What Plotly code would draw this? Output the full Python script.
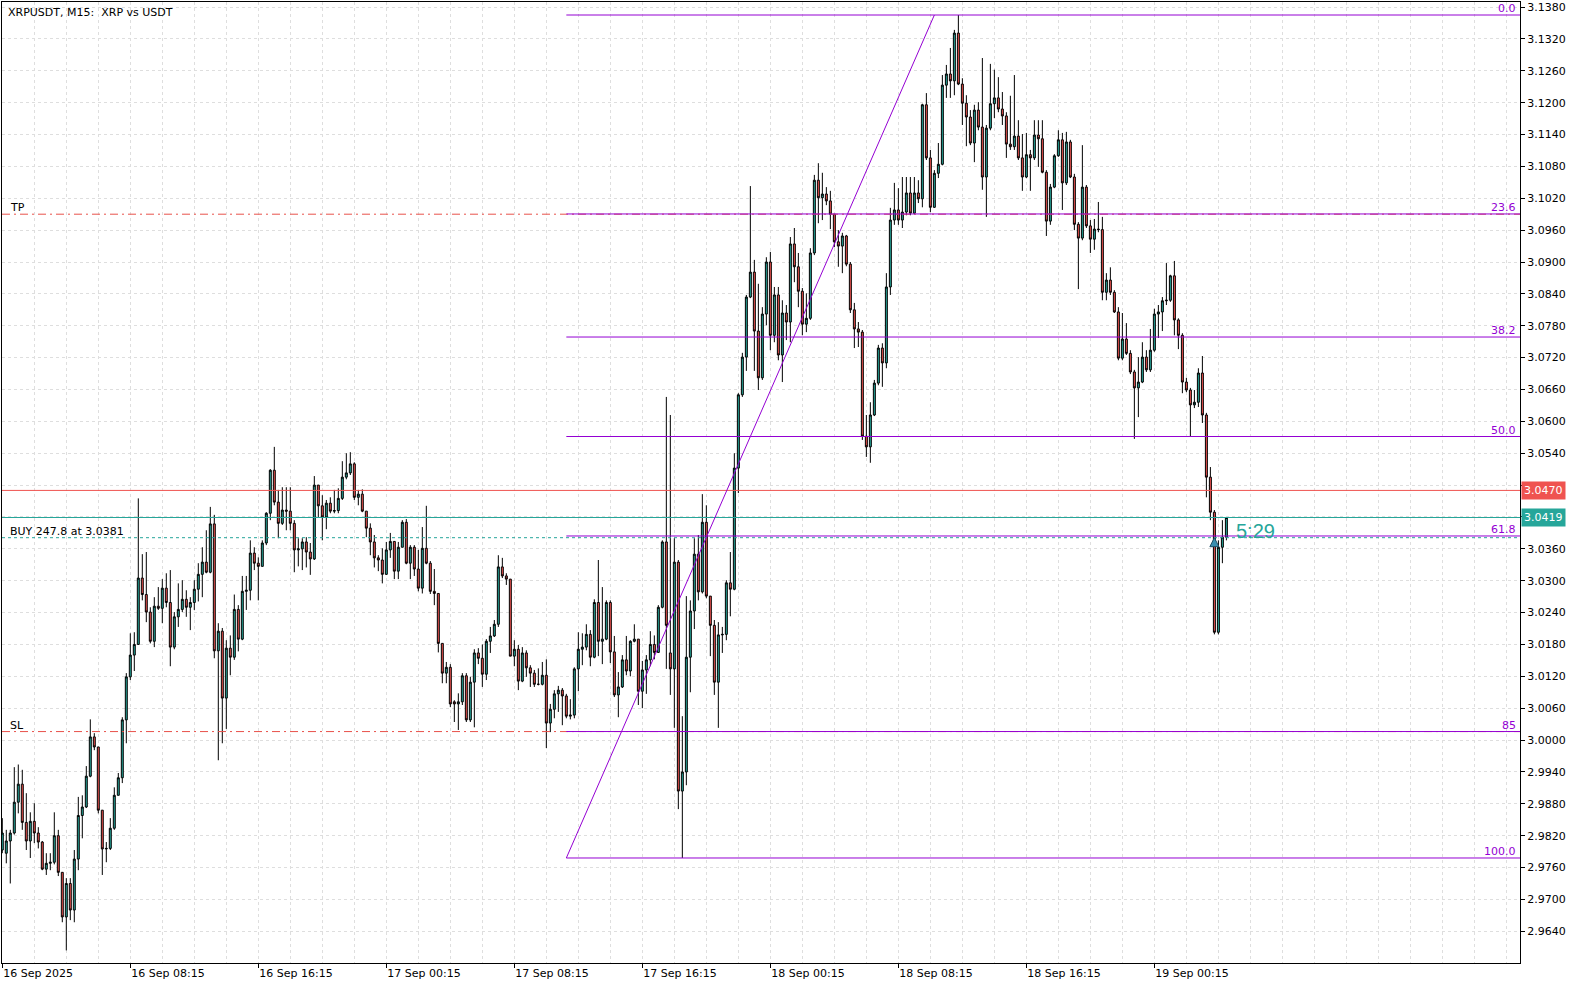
import plotly.graph_objects as go
import pandas as pd

symbol_title = "XRPUSDT, M15:  XRP vs USDT"
first_bar = "2025-09-16 00:15"

opens = [
2.9793,2.9787,2.9810,2.9825,2.9883,2.9917,2.9845,2.9810,2.9847,2.9825,
2.9808,2.9757,2.9768,2.9770,2.9820,2.9751,2.9667,2.9730,2.9680,2.9776,
2.9858,2.9874,2.9932,3.0006,2.9987,2.9868,2.9795,2.9796,2.9834,2.9896,
2.9929,3.0038,3.0119,3.0160,3.0180,3.0305,3.0274,3.0241,3.0186,3.0252,
3.0248,3.0286,3.0259,3.0175,3.0232,3.0246,3.0265,3.0250,3.0259,3.0284,
3.0312,3.0335,3.0316,3.0407,3.0168,3.0205,3.0079,3.0173,3.0156,3.0246,
3.0190,3.0280,3.0282,3.0352,3.0333,3.0327,3.0371,3.0427,3.0508,3.0448,
3.0408,3.0433,3.0431,3.0408,3.0358,3.0360,3.0373,3.0354,3.0341,3.0480,
3.0441,3.0420,3.0446,3.0431,3.0432,3.0455,3.0495,3.0503,3.0520,3.0457,
3.0463,3.0431,3.0399,3.0373,3.0343,3.0339,3.0312,3.0358,3.0374,3.0318,
3.0363,3.0410,3.0333,3.0363,3.0322,3.0286,3.0361,3.0333,3.0280,3.0276,
3.0182,3.0126,3.0137,3.0072,3.0068,3.0072,3.0121,3.0038,3.0109,3.0164,
3.0154,3.0124,3.0186,3.0196,3.0218,3.0326,3.0309,3.0303,3.0158,3.0171,
3.0111,3.0164,3.0136,3.0126,3.0105,3.0105,3.0122,3.0032,3.0058,3.0087,
3.0094,3.0083,3.0045,3.0047,3.0134,3.0171,3.0175,3.0199,3.0156,3.0259,
3.0186,3.0190,3.0259,3.0166,3.0085,3.0100,3.0151,3.0130,3.0186,3.0190,
3.0092,3.0132,3.0151,3.0180,3.0165,3.0250,3.0373,3.0164,3.0134,3.0335,
2.9904,2.9940,3.0156,3.0243,3.0350,3.0279,3.0410,3.0271,3.0216,3.0109,
3.0198,3.0199,3.0296,3.0284,3.0512,3.0650,3.0721,3.0834,3.0881,3.0770,
3.0682,3.0802,3.0900,3.0762,3.0838,3.0725,3.0804,3.0787,3.0934,3.0891,
3.0845,3.0783,3.0794,3.0917,3.1054,3.1021,3.1028,3.1015,3.0990,3.0938,
3.0930,3.0949,3.0896,3.0810,3.0774,3.0768,3.0572,3.0552,3.0612,3.0672,
3.0738,3.0710,3.0853,3.0979,3.0998,3.0979,3.0994,3.1030,3.0992,3.1030,
3.1019,3.1196,3.1096,3.1003,3.1067,3.1084,3.1233,3.1254,3.1241,3.1331,
3.1235,3.1199,3.1173,3.1124,3.1186,3.1154,3.1060,3.1152,3.1198,3.1209,
3.1188,3.1175,3.1122,3.1117,3.1137,3.1096,3.1060,3.1102,3.1096,3.1139,
3.1132,3.1069,3.0977,3.1041,3.1100,3.1130,3.1049,3.1126,3.1060,3.0971,
3.0945,3.1041,3.0968,3.0943,3.0962,3.0961,3.0843,3.0866,3.0843,3.0806,
3.0719,3.0755,3.0728,3.0693,3.0663,3.0674,3.0721,3.0697,3.0734,3.0802,
3.0806,3.0827,3.0828,3.0874,3.0791,3.0762,3.0674,3.0659,3.0631,3.0636,
3.0691,3.0612,3.0495,3.0429,3.0203,3.0363,3.0382,
]

highs = [
2.9853,2.9831,2.9831,2.9949,2.9954,2.9944,2.9900,2.9864,2.9881,2.9836,
2.9810,2.9787,2.9787,2.9864,2.9831,2.9751,2.9740,2.9740,2.9793,2.9893,
2.9896,2.9951,3.0039,3.0013,2.9987,2.9868,2.9808,2.9853,2.9911,2.9938,
3.0043,3.0126,3.0201,3.0203,3.0455,3.0350,3.0354,3.0250,3.0269,3.0288,
3.0303,3.0314,3.0320,3.0241,3.0295,3.0301,3.0282,3.0269,3.0301,3.0333,
3.0363,3.0395,3.0439,3.0424,3.0220,3.0211,3.0188,3.0197,3.0274,3.0254,
3.0309,3.0309,3.0376,3.0363,3.0344,3.0376,3.0429,3.0510,3.0552,3.0471,
3.0476,3.0476,3.0476,3.0414,3.0380,3.0380,3.0382,3.0371,3.0497,3.0480,
3.0461,3.0452,3.0457,3.0471,3.0474,3.0525,3.0540,3.0542,3.0523,3.0471,
3.0472,3.0431,3.0408,3.0386,3.0348,3.0361,3.0373,3.0390,3.0374,3.0373,
3.0414,3.0416,3.0367,3.0367,3.0358,3.0401,3.0441,3.0337,3.0322,3.0276,
3.0182,3.0147,3.0143,3.0075,3.0088,3.0126,3.0126,3.0119,3.0171,3.0173,
3.0180,3.0190,3.0213,3.0226,3.0348,3.0343,3.0314,3.0303,3.0188,3.0179,
3.0175,3.0169,3.0141,3.0132,3.0135,3.0147,3.0152,3.0068,3.0094,3.0102,
3.0098,3.0087,3.0077,3.0137,3.0203,3.0201,3.0218,3.0207,3.0265,3.0339,
3.0288,3.0263,3.0263,3.0196,3.0128,3.0160,3.0196,3.0188,3.0218,3.0190,
3.0149,3.0160,3.0205,3.0197,3.0254,3.0376,3.0646,3.0612,3.0380,3.0339,
3.0045,3.0271,3.0263,3.0380,3.0386,3.0463,3.0442,3.0271,3.0226,3.0222,
3.0213,3.0301,3.0354,3.0540,3.0653,3.0729,3.0838,3.1043,3.0904,3.0859,
3.0815,3.0909,3.0919,3.0853,3.0853,3.0828,3.0819,3.0947,3.0964,3.0917,
3.0851,3.0841,3.0926,3.1064,3.1086,3.1068,3.1041,3.1034,3.0990,3.0960,
3.0955,3.0951,3.0900,3.0823,3.0787,3.0772,3.0612,3.0636,3.0678,3.0744,
3.0747,3.0879,3.1002,3.1049,3.1039,3.1060,3.1060,3.1060,3.1060,3.1054,
3.1198,3.1218,3.1111,3.1073,3.1124,3.1252,3.1271,3.1303,3.1337,3.1365,
3.1246,3.1214,3.1186,3.1196,3.1201,3.1284,3.1158,3.1273,3.1262,3.1248,
3.1220,3.1182,3.1213,3.1252,3.1167,3.1141,3.1143,3.1111,3.1167,3.1167,
3.1167,3.1073,3.1047,3.1103,3.1148,3.1143,3.1145,3.1130,3.1066,3.0975,
3.1120,3.1045,3.0979,3.0981,3.1013,3.0985,3.0879,3.0890,3.0847,3.0815,
3.0804,3.0785,3.0734,3.0697,3.0721,3.0749,3.0734,3.0774,3.0812,3.0819,
3.0834,3.0898,3.0876,3.0902,3.0794,3.0766,3.0682,3.0663,3.0659,3.0700,
3.0723,3.0616,3.0514,3.0433,3.0376,3.0414,3.0419,
]

lows = [
2.9787,2.9768,2.9730,2.9822,2.9862,2.9831,2.9793,2.9778,2.9806,2.9796,
2.9755,2.9746,2.9755,2.9766,2.9744,2.9657,2.9604,2.9661,2.9657,2.9755,
2.9815,2.9872,2.9930,2.9981,2.9862,2.9746,2.9770,2.9793,2.9831,2.9896,
2.9919,2.9994,3.0113,3.0130,3.0179,3.0263,3.0222,3.0182,3.0175,3.0245,
3.0220,3.0250,3.0139,3.0171,3.0213,3.0241,3.0232,3.0207,3.0245,3.0261,
3.0269,3.0314,3.0314,3.0154,2.9962,2.9994,3.0021,3.0122,3.0151,3.0167,
3.0188,3.0245,3.0263,3.0320,3.0263,3.0327,3.0367,3.0414,3.0442,3.0380,
3.0405,3.0395,3.0395,3.0316,3.0327,3.0320,3.0325,3.0311,3.0339,3.0420,
3.0376,3.0397,3.0427,3.0427,3.0427,3.0452,3.0491,3.0499,3.0452,3.0442,
3.0429,3.0382,3.0348,3.0325,3.0318,3.0295,3.0311,3.0343,3.0303,3.0303,
3.0363,3.0331,3.0303,3.0309,3.0280,3.0276,3.0331,3.0275,3.0254,3.0165,
3.0107,3.0107,3.0062,3.0034,3.0019,3.0066,3.0034,3.0034,3.0024,3.0143,
3.0100,3.0113,3.0164,3.0194,3.0213,3.0305,3.0292,3.0158,3.0139,3.0094,
3.0109,3.0119,3.0100,3.0100,3.0103,3.0103,2.9985,3.0015,3.0041,3.0053,
3.0028,3.0041,3.0039,3.0041,3.0092,3.0141,3.0169,3.0139,3.0154,3.0158,
3.0143,3.0188,3.0145,3.0081,3.0043,3.0098,3.0122,3.0120,3.0184,3.0066,
3.0060,3.0087,3.0139,3.0152,3.0164,3.0248,3.0134,3.0085,3.0023,2.9870,
2.9778,2.9915,3.0090,3.0209,3.0263,3.0276,3.0267,3.0158,3.0085,3.0023,
3.0164,3.0188,3.0233,3.0282,3.0465,3.0646,3.0695,3.0832,3.0695,3.0659,
3.0678,3.0781,3.0734,3.0749,3.0715,3.0674,3.0753,3.0749,3.0862,3.0815,
3.0762,3.0768,3.0791,3.0913,3.0973,3.0979,3.1007,3.0962,3.0928,3.0891,
3.0879,3.0892,3.0804,3.0738,3.0740,3.0565,3.0533,3.0522,3.0610,3.0668,
3.0665,3.0700,3.0838,3.0970,3.0970,3.0964,3.0988,3.0988,3.0990,3.1011,
3.1003,3.1092,3.0994,3.1002,3.1058,3.1082,3.1209,3.1209,3.1214,3.1233,
3.1158,3.1118,3.1120,3.1088,3.1148,3.1036,3.0985,3.1148,3.1171,3.1182,
3.1158,3.1096,3.1111,3.1111,3.1092,3.1034,3.1058,3.1034,3.1092,3.1079,
3.1067,3.0949,3.0970,3.1039,3.1098,3.0998,3.1045,3.1058,3.0960,3.0849,
3.0941,3.0964,3.0917,3.0923,3.0956,3.0828,3.0828,3.0838,3.0804,3.0715,
3.0715,3.0725,3.0689,3.0567,3.0608,3.0672,3.0693,3.0693,3.0731,3.0757,
3.0770,3.0819,3.0825,3.0762,3.0736,3.0653,3.0655,3.0572,3.0625,3.0627,
3.0597,3.0457,3.0414,3.0199,3.0199,3.0333,3.0376,
]

closes = [
2.9825,2.9810,2.9825,2.9883,2.9917,2.9845,2.9810,2.9847,2.9825,2.9808,
2.9757,2.9768,2.9770,2.9820,2.9751,2.9667,2.9730,2.9680,2.9776,2.9858,
2.9874,2.9932,3.0006,2.9987,2.9868,2.9795,2.9796,2.9834,2.9896,2.9929,
3.0038,3.0119,3.0160,3.0180,3.0305,3.0274,3.0241,3.0186,3.0252,3.0248,
3.0286,3.0259,3.0175,3.0232,3.0246,3.0265,3.0250,3.0259,3.0284,3.0312,
3.0335,3.0316,3.0407,3.0168,3.0205,3.0079,3.0173,3.0156,3.0246,3.0190,
3.0280,3.0282,3.0352,3.0333,3.0327,3.0371,3.0427,3.0508,3.0448,3.0408,
3.0433,3.0431,3.0408,3.0358,3.0360,3.0373,3.0354,3.0341,3.0480,3.0441,
3.0420,3.0446,3.0431,3.0432,3.0455,3.0495,3.0503,3.0520,3.0457,3.0463,
3.0431,3.0399,3.0373,3.0343,3.0339,3.0312,3.0358,3.0374,3.0318,3.0363,
3.0410,3.0333,3.0363,3.0322,3.0286,3.0361,3.0333,3.0280,3.0276,3.0182,
3.0126,3.0137,3.0068,3.0068,3.0072,3.0121,3.0038,3.0109,3.0164,3.0154,
3.0124,3.0186,3.0196,3.0218,3.0326,3.0309,3.0303,3.0158,3.0171,3.0111,
3.0164,3.0136,3.0126,3.0105,3.0105,3.0122,3.0032,3.0058,3.0087,3.0094,
3.0083,3.0045,3.0047,3.0134,3.0171,3.0175,3.0199,3.0156,3.0259,3.0186,
3.0190,3.0259,3.0166,3.0085,3.0100,3.0151,3.0130,3.0186,3.0190,3.0092,
3.0132,3.0151,3.0180,3.0165,3.0250,3.0373,3.0216,3.0134,3.0335,2.9904,
2.9940,3.0156,3.0243,3.0350,3.0279,3.0410,3.0271,3.0216,3.0109,3.0198,
3.0199,3.0296,3.0284,3.0512,3.0650,3.0721,3.0834,3.0881,3.0770,3.0682,
3.0802,3.0900,3.0762,3.0838,3.0725,3.0804,3.0787,3.0934,3.0891,3.0845,
3.0783,3.0794,3.0917,3.1054,3.1021,3.1028,3.1015,3.0990,3.0938,3.0930,
3.0949,3.0896,3.0810,3.0774,3.0768,3.0572,3.0552,3.0612,3.0672,3.0738,
3.0710,3.0853,3.0979,3.0998,3.0979,3.0994,3.1030,3.0992,3.1030,3.1019,
3.1196,3.1096,3.1003,3.1067,3.1084,3.1233,3.1254,3.1241,3.1331,3.1235,
3.1199,3.1173,3.1124,3.1186,3.1154,3.1060,3.1152,3.1198,3.1209,3.1188,
3.1175,3.1122,3.1117,3.1137,3.1096,3.1060,3.1102,3.1096,3.1139,3.1132,
3.1069,3.0977,3.1041,3.1100,3.1130,3.1049,3.1126,3.1060,3.0971,3.0945,
3.1041,3.0968,3.0943,3.0962,3.0961,3.0843,3.0866,3.0843,3.0806,3.0719,
3.0755,3.0728,3.0693,3.0663,3.0674,3.0721,3.0697,3.0734,3.0802,3.0806,
3.0827,3.0828,3.0874,3.0791,3.0762,3.0674,3.0659,3.0631,3.0636,3.0691,
3.0612,3.0495,3.0429,3.0203,3.0363,3.0382,3.0419,
]

x_tick_times = ["2025-09-16 00:15", "2025-09-16 08:15", "2025-09-16 16:15",
                "2025-09-17 00:15", "2025-09-17 08:15", "2025-09-17 16:15",
                "2025-09-18 00:15", "2025-09-18 08:15", "2025-09-18 16:15",
                "2025-09-19 00:15"]
x_tick_labels = ["16 Sep 2025", "16 Sep 08:15", "16 Sep 16:15", "17 Sep 00:15",
                 "17 Sep 08:15", "17 Sep 16:15", "18 Sep 00:15", "18 Sep 08:15",
                 "18 Sep 16:15", "19 Sep 00:15"]

y_tick_values = [2.9640, 2.9700, 2.9760, 2.9820, 2.9880, 2.9940, 3.0000, 3.0060,
                 3.0120, 3.0180, 3.0240, 3.0300, 3.0360, 3.0420, 3.0480, 3.0540,
                 3.0600, 3.0660, 3.0720, 3.0780, 3.0840, 3.0900, 3.0960, 3.1020,
                 3.1080, 3.1140, 3.1200, 3.1260, 3.1320, 3.1380]

ask_price = 3.0470
bid_price = 3.0419
entry_price = 3.0381
entry_time = "2025-09-19 04:00"
entry_label = "BUY 247.8 at 3.0381"
tp_price = 3.0990
sl_price = 3.0016
fib_high = 3.1365
fib_low = 2.9778
fib_start = "2025-09-17 11:30"
fib_end = "2025-09-18 10:30"
fib_ratios = [0.0, 23.6, 38.2, 50.0, 61.8, 85.0, 100.0]
fib_labels = ["0.0", "23.6", "38.2", "50.0", "61.8", "85", "100.0"]
timer_text = "5:29"

BULL = "#26A69A"
BEAR = "#EF5350"
FIB = "#9400D3"
GRID = "#dedede"
FONT = "DejaVu Sans"

n = min(len(opens), len(highs), len(lows), len(closes))
times = pd.date_range(first_bar, periods=n, freq="15min")

x_left = pd.Timestamp(first_bar) - pd.Timedelta(minutes=1.1)
x_right = pd.Timestamp(first_bar) + pd.Timedelta(minutes=15 * 379.4)

# tick labels hidden behind the price boxes (as in the terminal)
y_tick_text = []
for v in y_tick_values:
    hidden = abs(v - ask_price) < 0.0016 or abs(v - bid_price) < 0.0016
    y_tick_text.append("" if hidden else f"{v:.4f}")

fig = go.Figure()
fig.add_trace(go.Candlestick(
    x=times, open=opens[:n], high=highs[:n], low=lows[:n], close=closes[:n],
    increasing=dict(line=dict(color="black", width=1), fillcolor=BULL),
    decreasing=dict(line=dict(color="black", width=1), fillcolor=BEAR),
    whiskerwidth=0, showlegend=False, hoverinfo="skip",
))

fig.add_trace(go.Scatter(
    x=[entry_time], y=[entry_price], mode="markers",
    marker=dict(symbol="arrow-up", size=9, color="#3a8fb0",
                line=dict(color="#1d4e66", width=1)),
    showlegend=False, hoverinfo="skip",
))

shapes = []
for p in (tp_price, sl_price):
    shapes.append(dict(type="line", xref="paper", x0=0, x1=1, y0=p, y1=p,
                       line=dict(color="#E8514A", width=1, dash="8px,4px,2px,4px")))
shapes.append(dict(type="line", xref="paper", x0=0, x1=1, y0=entry_price, y1=entry_price,
                   line=dict(color=BULL, width=1, dash="3px,3px")))
shapes.append(dict(type="line", xref="paper", x0=0, x1=1, y0=ask_price, y1=ask_price,
                   line=dict(color=BEAR, width=1)))
shapes.append(dict(type="line", xref="paper", x0=0, x1=1, y0=bid_price, y1=bid_price,
                   line=dict(color=BULL, width=1)))
fib_prices = [fib_high - r / 100.0 * (fib_high - fib_low) for r in fib_ratios]
for p in fib_prices:
    shapes.append(dict(type="line", xref="x", x0=fib_start, x1=x_right, y0=p, y1=p,
                       line=dict(color=FIB, width=1)))
shapes.append(dict(type="line", xref="x", x0=fib_start, x1=fib_end, y0=fib_low, y1=fib_high,
                   line=dict(color=FIB, width=1)))

ann = []
for p, lab in zip(fib_prices, fib_labels):
    ann.append(dict(xref="paper", x=1, xanchor="right", xshift=-2, yref="y", y=p,
                    yanchor="bottom", yshift=-2, text=lab, showarrow=False,
                    font=dict(family=FONT, size=11, color=FIB)))
for p, lab in ((tp_price, "TP"), (sl_price, "SL"), (entry_price, entry_label)):
    ann.append(dict(xref="paper", x=0, xanchor="left", xshift=6, yref="y", y=p,
                    yanchor="bottom", yshift=-2, text=lab, showarrow=False,
                    font=dict(family=FONT, size=11, color="black")))
ann.append(dict(xref="paper", x=0, xanchor="left", xshift=4, yref="paper", y=1,
                yanchor="top", yshift=-2, text=symbol_title, showarrow=False,
                font=dict(family=FONT, size=11, color="black")))
for p, col in ((ask_price, BEAR), (bid_price, BULL)):
    ann.append(dict(xref="paper", x=1, xanchor="left", xshift=1, yref="y", y=p,
                    yanchor="middle", text=f"{p:.4f}", showarrow=False,
                    bgcolor=col, borderpad=2,
                    font=dict(family=FONT, size=11, color="white")))
ann.append(dict(xref="x", x=times[-1] + pd.Timedelta(minutes=30), xanchor="left",
                yref="y", y=bid_price, yanchor="top", text=timer_text, showarrow=False,
                font=dict(family="Liberation Sans", size=20, color=BULL)))

fig.update_layout(
    width=1582, height=987,
    margin=dict(l=2, r=62, t=2, b=24),
    paper_bgcolor="white", plot_bgcolor="white",
    shapes=shapes, annotations=ann,
    showlegend=False,
    font=dict(family=FONT, size=11, color="black"),
    xaxis=dict(
        type="date", range=[x_left, x_right],
        rangeslider=dict(visible=False),
        tickvals=x_tick_times, ticktext=x_tick_labels,
        ticks="outside", ticklen=4, tickcolor="black",
        ticklabelposition="outside right",
        tickfont=dict(family=FONT, size=11, color="black"),
        showline=True, linecolor="black", linewidth=1, mirror=True,
        showgrid=True, gridcolor=GRID, griddash="3px,3px", gridwidth=1,
        minor=dict(tick0=first_bar, dtick=7200000, showgrid=True,
                   gridcolor=GRID, griddash="3px,3px", gridwidth=1),
        zeroline=False, fixedrange=True,
    ),
    yaxis=dict(
        side="right", range=[2.95803, 3.13895],
        tickvals=y_tick_values, ticktext=y_tick_text,
        ticks="outside", ticklen=4, tickcolor="black",
        tickfont=dict(family=FONT, size=11, color="black"),
        showline=True, linecolor="black", linewidth=1, mirror=True,
        showgrid=True, gridcolor=GRID, griddash="3px,3px", gridwidth=1,
        zeroline=False, fixedrange=True,
    ),
)

fig.write_html("out.html", config={"displayModeBar": False},
               post_script="document.body.style.margin='0';document.body.style.overflow='hidden';")
